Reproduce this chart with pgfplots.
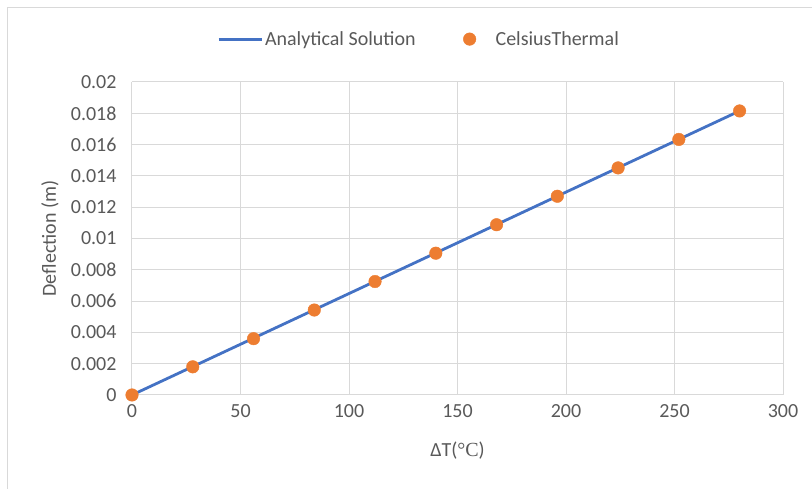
\documentclass[border=0pt]{standalone}
\usepackage{pgfplots}
\pgfplotsset{compat=1.18}
\usepackage{fontspec}
\setmainfont{Carlito}
\newfontfamily\serifdeg{Liberation Serif}
\definecolor{ablue}{HTML}{4472C4}
\definecolor{aorange}{HTML}{ED7D31}
\definecolor{gridgray}{HTML}{D9D9D9}
\definecolor{txtgray}{HTML}{595959}
\begin{document}
\begin{tikzpicture}[x=1pt,y=1pt]
\useasboundingbox (0,0) rectangle (812,489);
\draw[gridgray, line width=1.2pt] (7.5,0) -- (7.5,481.5) -- (812,481.5);
\begin{axis}[
  at={(132pt,94pt)}, anchor=south west,
  scale only axis, width=651pt, height=313pt,
  xmin=0, xmax=300, ymin=0, ymax=0.02,
  xtick={0,50,...,300},
  ytick={0,0.002,...,0.0201},
  yticklabels={0,0.002,0.004,0.006,0.008,0.01,0.012,0.014,0.016,0.018,0.02},
  scaled y ticks=false,
  /pgf/number format/assume math mode=true,
  ticklabel style={font=\fontsize{20}{22}\selectfont, text=txtgray},
  yticklabel style={xshift=-12pt},
  xticklabel style={yshift=-6pt},
  grid=major, major grid style={gridgray, line width=1pt},
  axis line style={draw=none},
  tick style={draw=none},
  xlabel={ΔT({\serifdeg °C})},
  ylabel={Deflection (m)},
  label style={font=\fontsize{20}{22}\selectfont, text=txtgray},
  xlabel style={at={(axis description cs:0.5,-0.176)}, anchor=center},
  ylabel style={at={(axis description cs:-0.126,0.5)}, anchor=center},
  legend columns=2,
  legend style={at={(0.441,1.137)}, anchor=center, draw=none, fill=none,
    font=\fontsize{20}{22}\selectfont, text=txtgray,
    /tikz/every even column/.append style={column sep=44pt}},
  legend image code/.code={},
]
\addplot[ablue, line width=2.8pt, no marks,
  legend image code/.code={\draw[ablue, line width=2.8pt] (0pt,0) -- (43pt,0);}]
  coordinates {(0,0) (280,0.01815)};
\addlegendentry{Analytical Solution}
\addplot[only marks, mark=*, mark size=6.3pt, aorange, mark options={draw=aorange, fill=aorange},
  legend image code/.code={\path[draw=none] (0pt,0) -- (32pt,0); \fill[aorange] (8pt,0) circle (6.3pt);}]
  coordinates {(0,0) (28,0.0018) (56,0.0036) (84,0.00543) (112,0.00725) (140,0.00906) (168,0.01088) (196,0.0127) (224,0.01451) (252,0.01633) (280,0.01815)};
\addlegendentry{CelsiusThermal}
\end{axis}
\end{tikzpicture}
\end{document}
